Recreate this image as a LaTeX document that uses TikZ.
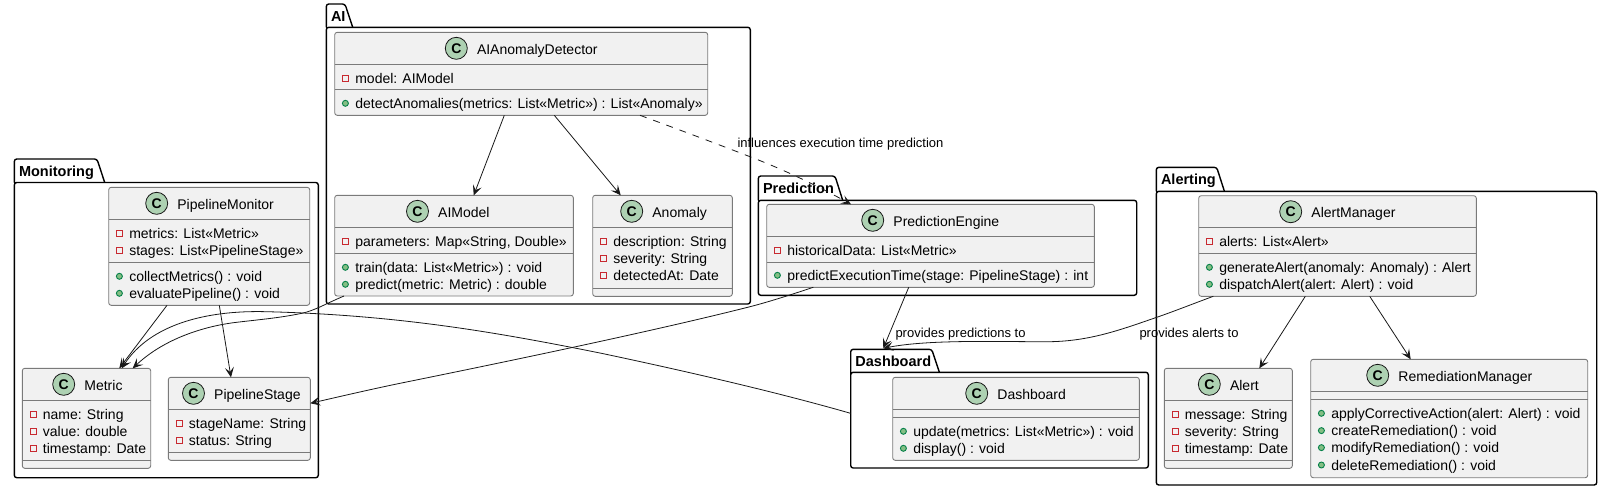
\documentclass[tikz,border=0pt]{standalone}
\usepackage{fontspec}
\setmainfont{Liberation Sans}
\usetikzlibrary{arrows.meta}
\definecolor{cfill}{HTML}{F1F1F1}
\definecolor{cline}{HTML}{7A7A7A}
\definecolor{spot}{HTML}{ADD1B2}
\definecolor{ink}{HTML}{181818}
\definecolor{privc}{HTML}{C82930}
\definecolor{pubc}{HTML}{038048}
\definecolor{pubf}{HTML}{84BE84}
\newcount\itemno
\tikzset{
  classbox/.style={draw=cline,fill=cfill,line width=.9pt,rounded corners=2.5pt,inner sep=0pt,outer sep=0pt},
  pkgbody/.style={draw=black,line width=1.4pt,rounded corners=2.5pt,inner sep=0pt,outer sep=0pt},
  pkgtab/.style={draw=black,line width=1.4pt,rounded corners=2.5pt},
  pkgtitle/.style={anchor=base west,inner sep=0pt,font=\fontsize{14.5}{16}\selectfont\bfseries},
  classtitle/.style={anchor=base west,inner sep=0pt,font=\fontsize{14}{16}\selectfont},
  membertext/.style={anchor=base west,inner sep=0pt,font=\fontsize{14}{16}\selectfont},
  edgelabel/.style={anchor=base west,inner sep=0pt,font=\fontsize{13}{15}\selectfont},
  conn/.style={draw=ink,line width=.8pt,-{Stealth[length=10pt,width=9pt,inset=4.5pt]}},
  spotc/.style={circle,draw=ink,fill=spot,line width=.8pt,minimum size=22pt,inner sep=0pt,font=\fontsize{14}{16}\selectfont\bfseries},
  privicon/.style={draw=privc,fill=none,line width=.9pt,minimum size=6pt,inner sep=0pt},
  pubicon/.style={circle,draw=pubc,fill=pubf,line width=.9pt,minimum size=6pt,inner sep=0pt},
}
% package: name, title, x1, tabtop, bodytop, x2, y2, tabx
\newcommand\pkg[8]{%
  \node[pkgbody,minimum width={(#6-#3)*1pt},minimum height={(#7-#5)*1pt}] (#1) at ({(#3+#6)/2},{(#5+#7)/2}) {};
  \draw[pkgtab] (#3,#5) -- (#3,#4) -- (#8,#4) -- ({#8+7.7},#5);
  \draw[black,line width=1.4pt] (#3,{#5-2}) -- (#3,{#5+3});
  \draw[black,line width=1.4pt] (#3,#5) -- ({#8+8},#5);
  \node[pkgtitle] (#1-title) at ({#3+4.5},{#4+17}) {#2};
}
% class: name, title, x1, y1, x2, y2, header y, sep y, circle x
\newcommand\klass[9]{%
  \node[classbox,minimum width={(#5-#3)*1pt},minimum height={(#6-#4)*1pt}] (#1) at ({(#3+#5)/2},{(#4+#6)/2}) {};
  \draw[cline,line width=.9pt] (#3,#7) -- (#5,#7);
  \draw[cline,line width=.9pt] (#3,#8) -- (#5,#8);
  \node[spotc] (#1-spot) at (#9,{#4+16}) {C};
  \node[classtitle] (#1-title) at ({#9+20.5},{#4+21.7}) {#2};
}
\newcommand\priv[3]{\global\advance\itemno by 1
  \node[privicon] (pi\the\itemno) at ({#1+10.7},{#2-5.3}) {};
  \node[membertext] (mt\the\itemno) at ({#1+20.4},#2) {#3};}
\newcommand\publ[3]{\global\advance\itemno by 1
  \node[pubicon] (pi\the\itemno) at ({#1+10.7},{#2-5}) {};
  \node[membertext] (mt\the\itemno) at ({#1+20.4},#2) {#3};}
\begin{document}
\begin{tikzpicture}[x=1pt,y=-1pt]
\useasboundingbox (0,0) rectangle (1602,491);
% packages
\pkg{pmon}{Monitoring}{14.3}{159}{182.5}{318.3}{477.7}{97}
\pkg{pai}{AI}{326.3}{4}{27.3}{750.3}{304}{345}
\pkg{ppred}{Prediction}{758.3}{176}{200.3}{1136.7}{295.3}{835}
\pkg{pdash}{Dashboard}{850.7}{349.3}{372.3}{1148.3}{468}{931.7}
\pkg{palert}{Alerting}{1156.3}{167.3}{191.3}{1596.7}{485}{1216.7}
% classes
\klass{pm}{PipelineMonitor}{108.7}{187.3}{309.7}{305.3}{219.3}{262.3}{156.7}
\priv{108.7}{238.3}{metrics: List«Metric»}
\priv{108.7}{255.3}{stages: List«PipelineStage»}
\publ{108.7}{281.3}{collectMetrics() : void}
\publ{108.7}{298.3}{evaluatePipeline() : void}
\klass{metric}{Metric}{22.3}{368.3}{150.7}{468.3}{400.3}{460.3}{63.7}
\priv{22.3}{419.3}{name: String}
\priv{22.3}{436.3}{value: double}
\priv{22.3}{453.6}{timestamp: Date}
\klass{ps}{PipelineStage}{168.3}{377.3}{310.3}{460.3}{409.3}{452.3}{193.5}
\priv{168.3}{428.3}{stageName: String}
\priv{168.3}{445.3}{status: String}
\klass{aad}{AIAnomalyDetector}{334.7}{32.3}{707.7}{115.3}{64.3}{89.3}{456.3}
\priv{334.7}{83.3}{model: AIModel}
\publ{334.7}{108.3}{detectAnomalies(metrics: List«Metric») : List«Anomaly»}
\klass{aim}{AIModel}{334.7}{195.3}{573.3}{296}{227.3}{253.7}{417.5}
\priv{334.7}{246.3}{parameters: Map«String, Double»}
\publ{334.7}{272.3}{train(data: List«Metric») : void}
\publ{334.7}{289.3}{predict(metric: Metric) : double}
\klass{ano}{Anomaly}{592.7}{195.3}{732.3}{296.3}{227.3}{288.3}{631.7}
\priv{592.7}{246.3}{description: String}
\priv{592.7}{263.6}{severity: String}
\priv{592.7}{280.3}{detectedAt: Date}
\klass{pe}{PredictionEngine}{766.7}{204.3}{1094.3}{287.3}{236.3}{262.3}{872.7}
\priv{766.7}{255.3}{historicalData: List«Metric»}
\publ{766.7}{280.3}{predictExecutionTime(stage: PipelineStage) : int}
\klass{dash}{Dashboard}{892.7}{377.3}{1139.3}{460.3}{409.3}{417.3}{976.7}
\publ{892.7}{436.3}{update(metrics: List«Metric») : void}
\publ{892.7}{453.3}{display() : void}
\klass{am}{AlertManager}{1198.7}{195.7}{1476.3}{296.3}{227.3}{253.3}{1290.7}
\priv{1198.7}{246.3}{alerts: List«Alert»}
\publ{1198.7}{272.3}{generateAlert(anomaly: Anomaly) : Alert}
\publ{1198.7}{289.3}{dispatchAlert(alert: Alert) : void}
\klass{al}{Alert}{1164.3}{368.3}{1292.3}{468.3}{400.3}{460.3}{1209.3}
\priv{1164.3}{419.3}{message: String}
\priv{1164.3}{436.3}{severity: String}
\priv{1164.3}{453.6}{timestamp: Date}
\klass{rm}{RemediationManager}{1310.7}{359.3}{1587.7}{477.7}{391.3}{399.3}{1377.7}
\publ{1310.7}{418.3}{applyCorrectiveAction(alert: Alert) : void}
\publ{1310.7}{435.6}{createRemediation() : void}
\publ{1310.7}{452.6}{modifyRemediation() : void}
\publ{1310.7}{470}{deleteRemediation() : void}
% connectors
\draw[conn] ([xshift=58.3pt]pm.south west) -- ([xshift=97pt]metric.north west);
\draw[conn] ([xshift=110.6pt]pm.south west) -- ([xshift=62.7pt]ps.north west);
\draw[conn] ([xshift=9.3pt]aim.south west) .. controls (325,304) and (315,310.5) .. (301.7,313.3) .. controls (280,318) and (255,320) .. (233.3,322.7) .. controls (205,326.5) and (165,338) .. ([xshift=110.4pt]metric.north west);
\draw[conn] ([yshift=6.8pt]pdash.west) .. controls (780,393) and (690,372) .. (600,353) .. controls (500,333) and (400,315) .. (266.7,311.7) .. controls (205,310) and (150,325) .. ([xshift=99.4pt]metric.north west);
\draw[conn] ([xshift=46.6pt]pe.south west) .. controls (790,295) and (770,301.5) .. (750,306.7) .. controls (650,332) and (500,363) .. (400,383.3) .. controls (370,389.5) and (340,396.5) .. ([yshift=15.5pt]ps.east);
\draw[conn] ([xshift=169.6pt]aad.south west) -- ([xshift=139pt]aim.north west);
\draw[conn] ([xshift=219.6pt]aad.south west) -- ([xshift=28pt]ano.north west);
\draw[conn,dash pattern=on 7pt off 7pt] ([xshift=305.3pt]aad.south west) .. controls (680,130) and (720,145) .. (750,156.7) .. controls (790,172) and (825,190) .. ([xshift=84.3pt]pe.north west);
\draw[conn] ([xshift=142pt]pe.south west) -- ([xshift=32.6pt,yshift=24pt]pdash.north west);
\draw[conn] ([xshift=14.6pt]am.south west) .. controls (1195,303) and (1175,311) .. (1156.7,317.3) .. controls (1120,330) and (1090,341) .. (1050,341.7) .. controls (1005,342) and (930,339) .. ([xshift=32.6pt,yshift=24pt]pdash.north west);
\draw[conn] ([xshift=106.6pt]am.south west) -- ([xshift=95pt]al.north west);
\draw[conn] ([xshift=171pt]am.south west) -- ([xshift=100pt]rm.north west);
% labels
\node[edgelabel] (l1) at (737.3,147) {influences execution time prediction};
\node[edgelabel] (l2) at (895.3,337) {provides predictions to};
\node[edgelabel] (l3) at (1139.3,337) {provides alerts to};
\end{tikzpicture}
\end{document}
